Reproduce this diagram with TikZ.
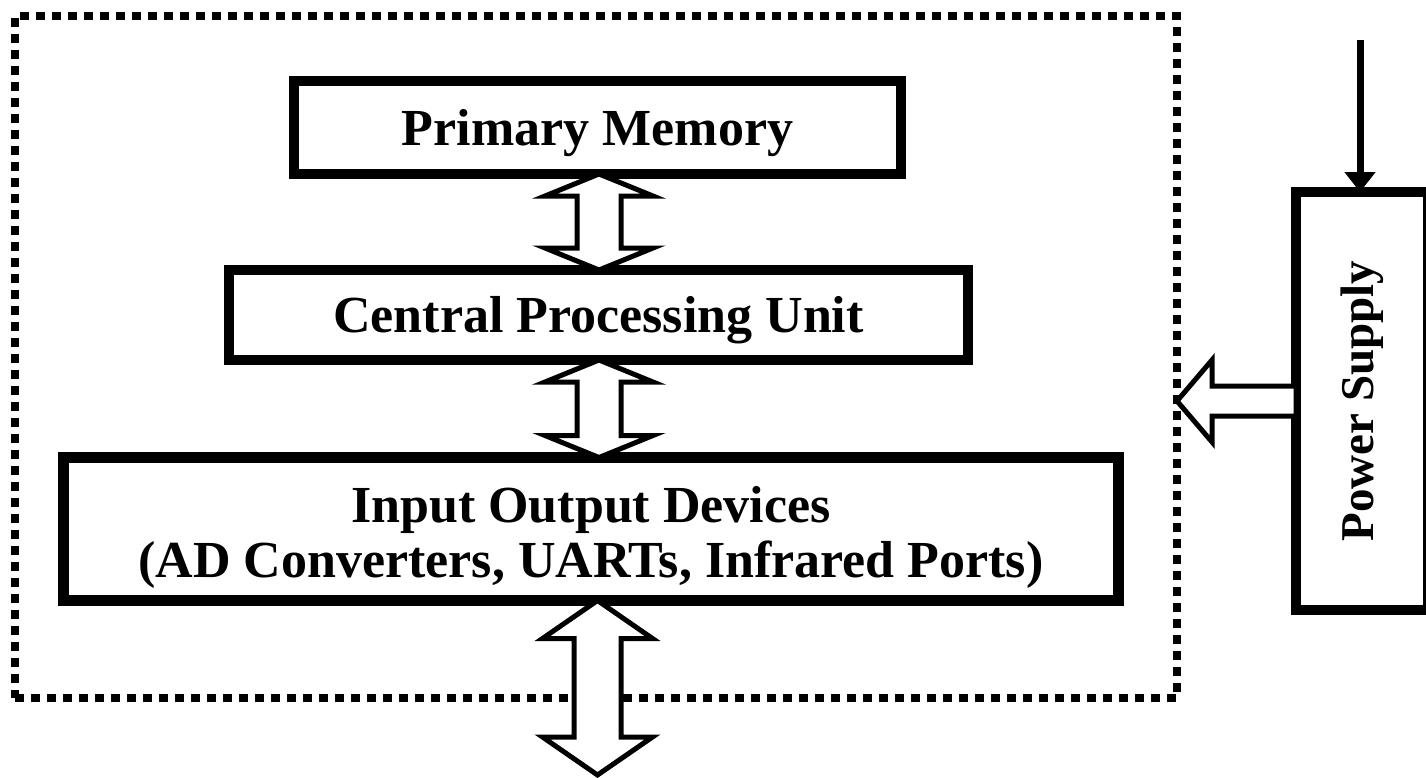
\documentclass[tikz,border=0pt]{standalone}
\usepackage{fontspec}
\usepackage{graphicx}
\setmainfont{Liberation Serif}
\usetikzlibrary{arrows.meta,calc}
\newcommand\hollowdbl[5]{%
  \draw[hollow] (#1) -- ++(#4,#3) -- ++({#5-#4},0) -- ($(#2)+(#5,-#3)$) -- ++({#4-#5},0)
    -- (#2) -- ++(-#4,-#3) -- ++({#4-#5},0) -- ($(#1)+(-#5,#3)$) -- ++({#5-#4},0) -- cycle;}
\begin{document}
\begin{tikzpicture}[x=1pt,y=-1pt,
  box/.style={draw,line width=10.5pt,inner sep=0pt,outer sep=0pt,
    font=\fontsize{52}{55}\selectfont\bfseries,align=center},
  hollow/.style={draw,line width=5pt,fill=white,line join=miter},
  frame/.style={draw,line width=8pt,dash pattern=on 9pt off 7pt,inner sep=0pt,outer sep=0pt}]
\useasboundingbox (0,0) rectangle (1426,777);
\node[frame,minimum width=1162pt,minimum height=682pt] (frame) at (596,357) {};
\node[box,minimum width=607pt,minimum height=93pt,text height=35pt,text depth=0pt] (pm) at (597.5,127.5) {Primary Memory};
\node[box,minimum width=739pt,minimum height=90pt,text height=35pt,text depth=0pt] (cpu) at (598.5,315) {Central Processing Unit};
\node[box,minimum width=1055pt,minimum height=143pt,text height=96pt,text depth=0pt] (io) at (591,529)
  {Input Output Devices\\(AD Converters, UARTs, Infrared Ports)};
\node[box,minimum width=132pt,minimum height=418pt,font=\fontsize{47}{50}\selectfont\bfseries] (ps) at (1362,401)
  {\rotatebox{90}{Power Supply}};
\coordinate (ax) at (599,0);
\coordinate (bx) at (597.5,0);
\coordinate (out) at (597.5,775);
\coordinate (pin) at (1360,40);
\coordinate (tip) at (frame.east |- ps.west);
\hollowdbl{pm.south -| ax}{cpu.north -| ax}{22}{54}{22}
\hollowdbl{cpu.south -| ax}{io.north -| ax}{22}{54}{22}
\hollowdbl{io.south -| bx}{out}{38}{55}{23.5}
\draw[hollow] (ps.west) -- ++(0,-15) -- ($(tip)+(35,-15)$) -- ++(0,-26) -- (tip)
  -- ++(35,41) -- ++(0,-26) -- ($(ps.west)+(0,15)$) -- cycle;
\draw[line width=7pt,-{Triangle[width=30pt,length=20pt]}] (pin) -- (pin |- ps.north);
\end{tikzpicture}
\end{document}
